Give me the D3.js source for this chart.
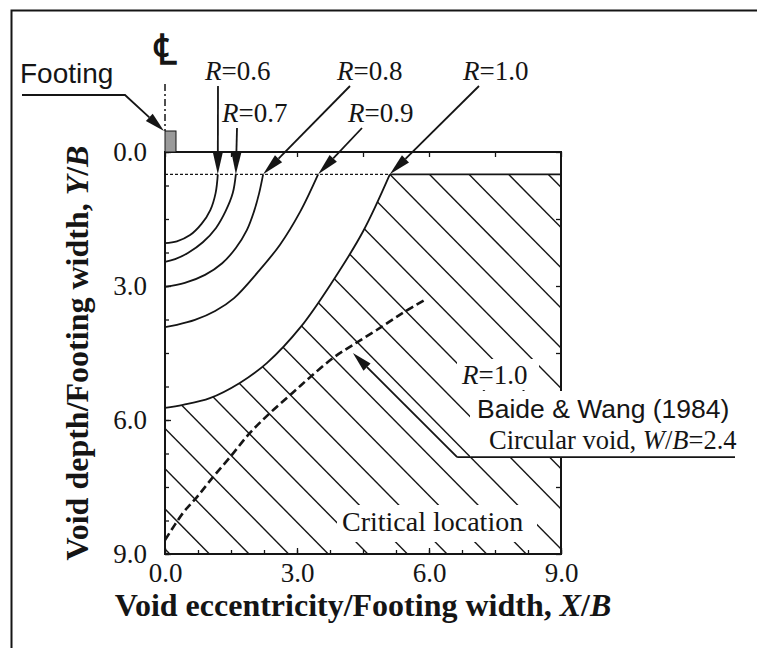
<!DOCTYPE html>
<html>
<head>
<meta charset="utf-8">
<script src="https://cdn.jsdelivr.net/npm/d3@7"></script>
<style>
  body { margin: 0; background: #fff; }
  svg { display: block; }
</style>
</head>
<body>
<svg id="chart" width="757" height="648"></svg>
<script>
// ---- data (X/B, Y/B) ----
var xTicks = [0, 3, 6, 9];
var yTicks = [0, 3, 6, 9];
var minorTicks = [0, 0.75, 1.5, 2.25, 3, 3.75, 4.5, 5.25, 6, 6.75, 7.5, 8.25, 9];
var frameTicks = [0, 1.5, 3, 4.5, 6, 7.5, 9];

var rValues = [0.6, 0.7, 0.8, 0.9, 1.0];
var curveR06 = [[1.20, 0.5], [1.15, 0.92], [1.03, 1.30], [0.83, 1.61], [0.57, 1.86], [0.27, 2.00], [0, 2.04]];
var curveR07 = [[1.61, 0.5], [1.54, 0.92], [1.38, 1.32], [1.16, 1.70], [0.86, 2.02], [0.52, 2.26], [0.23, 2.40], [0, 2.46]];
var curveR08 = [[2.23, 0.5], [2.14, 0.92], [2.02, 1.34], [1.86, 1.75], [1.61, 2.15], [1.30, 2.49], [0.91, 2.75],
                [0.45, 2.93], [0, 3.02]];
var curveR09 = [[3.48, 0.5], [3.07, 1.34], [2.61, 2.08], [2.11, 2.69], [1.57, 3.27], [1.14, 3.56], [0.68, 3.76],
                [0.27, 3.87], [0, 3.92]];
var curveR10 = [[5.11, 0.5], [4.50, 1.78], [3.80, 2.91], [3.09, 3.91], [2.32, 4.72], [1.70, 5.17], [1.02, 5.51],
                [0.41, 5.66], [0, 5.73]];
var rCurves = [curveR06, curveR07, curveR08, curveR09, curveR10];

var layerDepth = 0.5;   // Y/B of the dotted layer line
var criticalLocation = [[0, 8.69], [0.41, 8.08], [0.73, 7.72], [1.09, 7.28], [1.48, 6.83], [1.93, 6.29],
                        [2.39, 5.84], [2.89, 5.40], [3.30, 5.04], [3.82, 4.61], [4.27, 4.32], [4.82, 3.98],
                        [5.41, 3.60], [5.91, 3.31]];
var criticalArrowTip = [4.27, 4.50];
var criticalArrowElbow = [6.64, 6.83];

// ---- setup ----
var svg = d3.select("#chart");
var ink = "#151515";
var serif = "'Liberation Serif', 'Times New Roman', serif";
var sans = "'Liberation Sans', Arial, sans-serif";

var x = d3.scaleLinear().domain([0, 9]).range([165, 561]);
var y = d3.scaleLinear().domain([0, 9]).range([152, 554]);

var line = d3.line()
  .x(function(d) { return x(d[0]); })
  .y(function(d) { return y(d[1]); })
  .curve(d3.curveCatmullRom.alpha(0.5));

// outer border (left and top only visible)
svg.append("path")
  .attr("d", "M11.5,648V10.5H757")
  .attr("fill", "none").attr("stroke", ink).attr("stroke-width", 2);

// ---- hatched region below R=1.0 ----
var defs = svg.append("defs");
defs.append("clipPath").attr("id", "hatchClip")
  .append("path")
  .attr("d", line(curveR10) + "L" + x(0) + "," + y(9) + "L" + x(9) + "," + y(9) +
             "L" + x(9) + "," + y(layerDepth) + "Z");

var hatchStep = 0.9;
var hatch = svg.append("g").attr("clip-path", "url(#hatchClip)");
for (var n = -6; n <= 16; n++) {
  var x0 = curveR10[0][0] - hatchStep * n;
  hatch.append("line")
    .attr("x1", x(x0 - 2)).attr("y1", y(layerDepth - 2))
    .attr("x2", x(x0 + 12)).attr("y2", y(layerDepth + 12))
    .attr("stroke", ink).attr("stroke-width", 1.4);
}

// ---- axes ticks ----
function styleAxis(g) {
  g.select(".domain").remove();
  g.selectAll("line").attr("stroke", ink).attr("stroke-width", 1.3);
  g.selectAll("text").attr("fill", ink).style("font-family", serif).style("font-size", "27px");
}
svg.append("g").attr("transform", "translate(0," + y(9) + ")")
  .call(d3.axisBottom(x).tickValues(minorTicks).tickFormat("").tickSize(-4)).call(styleAxis);
svg.append("g").attr("transform", "translate(0," + y(9) + ")")
  .call(d3.axisBottom(x).tickValues(xTicks).tickFormat(d3.format(".1f")).tickSize(-6).tickPadding(9))
  .call(styleAxis);
svg.append("g").attr("transform", "translate(" + x(0) + ",0)")
  .call(d3.axisLeft(y).tickValues(minorTicks).tickFormat("").tickSize(-4)).call(styleAxis);
svg.append("g").attr("transform", "translate(" + x(0) + ",0)")
  .call(d3.axisLeft(y).tickValues(yTicks).tickFormat(d3.format(".1f")).tickSize(-6).tickPadding(18))
  .call(styleAxis);
svg.append("g").attr("transform", "translate(0," + y(0) + ")")
  .call(d3.axisTop(x).tickValues(frameTicks).tickFormat("").tickSize(-5)).call(styleAxis);
svg.append("g").attr("transform", "translate(" + x(9) + ",0)")
  .call(d3.axisRight(y).tickValues(frameTicks).tickFormat("").tickSize(-5)).call(styleAxis);

// plot frame
svg.append("rect")
  .attr("x", x(0)).attr("y", y(0)).attr("width", x(9) - x(0)).attr("height", y(9) - y(0))
  .attr("fill", "none").attr("stroke", ink).attr("stroke-width", 2);

// layer line: dotted up to R=1.0, solid beyond
svg.append("line")
  .attr("x1", x(0)).attr("x2", x(curveR10[0][0]))
  .attr("y1", y(layerDepth)).attr("y2", y(layerDepth))
  .attr("stroke", ink).attr("stroke-width", 1.2).attr("stroke-dasharray", "3,2");
svg.append("line")
  .attr("x1", x(curveR10[0][0])).attr("x2", x(9))
  .attr("y1", y(layerDepth)).attr("y2", y(layerDepth))
  .attr("stroke", ink).attr("stroke-width", 1.8);

// R contours
svg.append("g").selectAll("path").data(rCurves).enter().append("path")
  .attr("d", line)
  .attr("fill", "none").attr("stroke", ink).attr("stroke-width", 1.8);

// critical location (Baide & Wang 1984)
svg.append("path")
  .attr("d", line(criticalLocation))
  .attr("fill", "none").attr("stroke", ink).attr("stroke-width", 2.6)
  .attr("stroke-dasharray", "8,4");

// ---- white boxes that break the hatch behind text ----
function whiteBox(x0, y0, x1, y1) {
  svg.append("rect").attr("x", x0).attr("y", y0).attr("width", x1 - x0).attr("height", y1 - y0)
    .attr("fill", "#fff");
}
whiteBox(457, 359, 539, 390);
whiteBox(470, 391, 757, 457);
whiteBox(337, 505, 537, 542);

// ---- arrows ----
function arrow(pts, len, hw) {
  var a = pts[pts.length - 2], b = pts[pts.length - 1];
  var ang = Math.atan2(b[1] - a[1], b[0] - a[0]);
  var bx = b[0] - len * Math.cos(ang), by = b[1] - len * Math.sin(ang);
  var shaft = pts.slice(0, -1).concat([[bx, by]]);
  svg.append("path").attr("d", d3.line()(shaft))
    .attr("fill", "none").attr("stroke", ink).attr("stroke-width", 1.8);
  svg.append("path")
    .attr("d", "M" + b[0] + "," + b[1] +
      "L" + (bx + hw * Math.sin(ang)) + "," + (by - hw * Math.cos(ang)) +
      "L" + (bx - hw * Math.sin(ang)) + "," + (by + hw * Math.cos(ang)) + "Z")
    .attr("fill", ink);
}

// R labels at the top with arrows to where each contour meets the layer line
var rLabelPos = [[205, 80], [222, 122], [337, 80], [348, 122], [463, 80]];
var rArrowStart = [[218, 86], [237, 128], [350, 86], [362, 128], [479, 86]];
rValues.forEach(function(r, i) {
  var t = svg.append("text").attr("x", rLabelPos[i][0]).attr("y", rLabelPos[i][1])
    .attr("fill", ink).style("font-family", serif).style("font-size", "27px");
  t.append("tspan").style("font-style", "italic").text("R");
  t.append("tspan").text("=" + d3.format(".1f")(r));
  var tip = rCurves[i][0];
  arrow([rArrowStart[i], [x(tip[0]), y(tip[1])]], 22, 5);
});

// lower R=1.0 label
var r1 = svg.append("text").attr("x", 462).attr("y", 384)
  .attr("fill", ink).style("font-family", serif).style("font-size", "27px");
r1.append("tspan").style("font-style", "italic").text("R");
r1.append("tspan").text("=1.0");

// Baide & Wang note
svg.append("text").attr("x", 477).attr("y", 418).attr("fill", ink)
  .style("font-family", sans).style("font-size", "26.5px").text("Baide & Wang (1984)");
var cv = svg.append("text").attr("x", 489).attr("y", 449).attr("fill", ink)
  .style("font-family", serif).style("font-size", "26.5px");
cv.append("tspan").text("Circular void, ");
cv.append("tspan").style("font-style", "italic").text("W");
cv.append("tspan").text("/");
cv.append("tspan").style("font-style", "italic").text("B");
cv.append("tspan").text("=2.4");

svg.append("line").attr("x1", x(criticalArrowElbow[0])).attr("x2", 735)
  .attr("y1", y(criticalArrowElbow[1])).attr("y2", y(criticalArrowElbow[1]))
  .attr("stroke", ink).attr("stroke-width", 1.8);
arrow([[x(criticalArrowElbow[0]), y(criticalArrowElbow[1])],
       [x(criticalArrowTip[0]), y(criticalArrowTip[1])]], 20, 5);

svg.append("text").attr("x", 342).attr("y", 531).attr("fill", ink)
  .style("font-family", serif).style("font-size", "28px").text("Critical location");

// footing and centre line
svg.append("rect").attr("x", x(0)).attr("y", 131).attr("width", 11).attr("height", y(0) - 131)
  .attr("fill", "#9a9a9a").attr("stroke", ink).attr("stroke-width", 1);
svg.append("line").attr("x1", x(0)).attr("x2", x(0)).attr("y1", 84).attr("y2", 131)
  .attr("stroke", ink).attr("stroke-width", 1.5).attr("stroke-dasharray", "7,3,2,3");
svg.append("text").attr("x", x(0)).attr("y", 64).attr("text-anchor", "middle").attr("fill", ink)
  .style("font-family", "'DejaVu Serif', serif").style("font-size", "42px").style("font-weight", "bold")
  .text("\u2104");
svg.append("text").attr("x", 20).attr("y", 83).attr("fill", ink)
  .style("font-family", sans).style("font-size", "28px").text("Footing");
arrow([[22, 95], [125, 95], [x(0) - 1, 131]], 20, 5);

// axis titles
var xt = svg.append("text").attr("x", (x(0) + x(9)) / 2).attr("y", 616).attr("text-anchor", "middle")
  .attr("fill", ink).style("font-family", serif).style("font-size", "32px").style("font-weight", "bold");
xt.append("tspan").text("Void eccentricity/Footing width, ");
xt.append("tspan").style("font-style", "italic").text("X");
xt.append("tspan").text("/");
xt.append("tspan").style("font-style", "italic").text("B");

var yt = svg.append("text")
  .attr("transform", "translate(88," + ((y(0) + y(9)) / 2) + ") rotate(-90)")
  .attr("text-anchor", "middle")
  .attr("fill", ink).style("font-family", serif).style("font-size", "32px").style("font-weight", "bold");
yt.append("tspan").text("Void depth/Footing width, ");
yt.append("tspan").style("font-style", "italic").text("Y");
yt.append("tspan").text("/");
yt.append("tspan").style("font-style", "italic").text("B");
</script>
</body>
</html>
